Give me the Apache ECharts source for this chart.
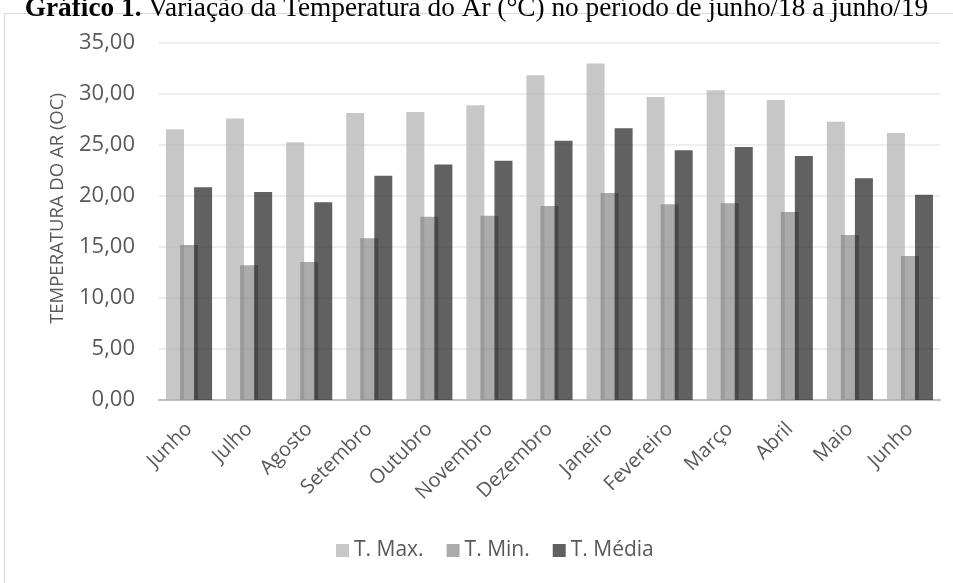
<!DOCTYPE html>
<html><head><meta charset="utf-8">
<script src="https://cdn.jsdelivr.net/npm/echarts@6/dist/echarts.min.js"></script>
<style>html,body{margin:0;padding:0;background:#fff}#c{width:953px;height:583px}</style>
</head><body><div id="c"></div>
<script>
var categories = ['Junho','Julho','Agosto','Setembro','Outubro','Novembro','Dezembro','Janeiro','Fevereiro','Março','Abril','Maio','Junho'];
var tMax   = [26.54, 27.60, 25.26, 28.14, 28.24, 28.89, 31.83, 33.00, 29.70, 30.36, 29.40, 27.28, 26.18];
var tMin   = [15.20, 13.20, 13.53, 15.85, 17.97, 18.07, 19.02, 20.29, 19.20, 19.28, 18.43, 16.18, 14.12];
var tMedia = [20.85, 20.39, 19.38, 21.99, 23.10, 23.46, 25.42, 26.63, 24.48, 24.80, 23.92, 21.73, 20.13];
var seriesNames = ['T. Max.', 'T. Min.', 'T. Média'];

var chart = echarts.init(document.getElementById('c'), null, {renderer:'canvas'});
var font = 'Open Sans';
function fmt(v){ return v.toFixed(2).replace('.', ','); }
chart.setOption({
  animation:false,
  graphic:[{type:'rect', shape:{x:4.5,y:13.5,width:1000,height:600}, style:{fill:'none', stroke:'#d9d9d9', lineWidth:1}, z:-1}],
  title:{
    text:'{b|Gráfico 1.} Variação da Temperatura do Ar (°C) no período de junho/18 a junho/19',
    left:'center', top:-10,
    textStyle:{fontFamily:'Liberation Serif', fontSize:27.3, fontWeight:'normal', color:'#000',
      rich:{b:{fontFamily:'Liberation Serif', fontSize:27.3, fontWeight:'bold', color:'#000'}}}
  },
  grid:{left:159, right:13, top:43, bottom:183, containLabel:false},
  legend:{
    top:535, left:331, itemWidth:13, itemHeight:13, itemGap:23,
    icon:'rect',
    textStyle:{fontFamily:font, fontSize:21, color:'#595959'},
    data:seriesNames
  },
  xAxis:{
    type:'category', data:categories,
    axisLine:{lineStyle:{color:'#bfbfbf', width:2}},
    axisTick:{show:false},
    axisLabel:{rotate:45, interval:0, fontFamily:font, fontSize:20, color:'#595959', margin:26}
  },
  yAxis:{
    type:'value', min:0, max:35, interval:5,
    name:'TEMPERATURA DO AR (OC)', nameLocation:'middle', nameGap:92,
    nameTextStyle:{fontFamily:font, fontSize:18.5, color:'#595959', padding:[0,0,0,26]},
    axisLine:{show:false}, axisTick:{show:false},
    axisLabel:{formatter:fmt, fontFamily:font, fontSize:22, color:'#595959', margin:24},
    splitLine:{lineStyle:{color:'#eeeeee', width:2}}
  },
  series:[
    {name:seriesNames[0], type:'bar', data:tMax, barWidth:18, barGap:'-22%', itemStyle:{color:'#afafaf', opacity:0.7}},
    {name:seriesNames[1], type:'bar', data:tMin, barWidth:18, barGap:'-22%', itemStyle:{color:'#888888', opacity:0.7}},
    {name:seriesNames[2], type:'bar', data:tMedia, barWidth:18, barGap:'-22%', itemStyle:{color:'#1e1e1e', opacity:0.7}}
  ]
});
</script></body></html>
